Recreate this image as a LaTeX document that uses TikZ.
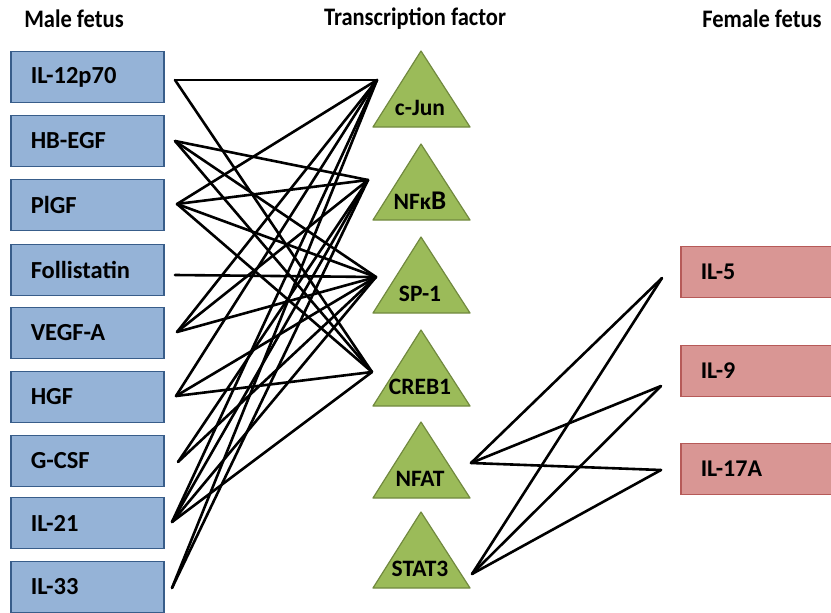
\documentclass[tikz,border=0pt]{standalone}
\usepackage{fontspec}
\setmainfont{Carlito}
\definecolor{boxblue}{HTML}{95B3D7}
\definecolor{edgeblue}{HTML}{385D8A}
\definecolor{boxred}{HTML}{D99694}
\definecolor{edgered}{HTML}{B65A58}
\definecolor{trigreen}{HTML}{9BBB59}
\definecolor{edgegreen}{HTML}{71893F}
\begin{document}
\begin{tikzpicture}[x=1pt,y=-1pt,
  mbox/.style={draw=edgeblue, fill=boxblue, line width=1.5pt, minimum width=153pt, minimum height=51pt,
    anchor=west, inner xsep=20pt, text width=113pt, align=left, font=\fontsize{24.5}{26}\selectfont\bfseries},
  fbox/.style={draw=edgered, fill=boxred, line width=1.5pt, minimum width=160pt, minimum height=51pt,
    anchor=west, inner xsep=20pt, text width=120pt, align=left, font=\fontsize{24}{26}\selectfont\bfseries},
  tri/.style={draw=edgegreen, fill=trigreen, line width=1.2pt, line join=round},
  tlabel/.style={font=\fontsize{23.5}{25}\selectfont\bfseries, inner sep=0pt},
  head/.style={font=\fontsize{22.5}{24}\selectfont\bfseries, inner sep=0pt},
  link/.style={line width=2.6pt, black}]
\useasboundingbox (0,0) rectangle (831,613);
% headers
\node[head] (hmale) at (74,19) {\scalebox{1}[1.12]{Male fetus}};
\node[head] (htf) at (415,19) {\scalebox{1}[1.12]{Transcription factor}};
\node[head] (hfem) at (762,19) {\scalebox{1}[1.12]{Female fetus}};
% male boxes
\node[mbox] (b1) at (10,77) {IL-12p70};
\node[mbox] (b2) at (10,141) {HB-EGF};
\node[mbox] (b3) at (10,205) {PlGF};
\node[mbox] (b4) at (10,270) {Follistatin};
\node[mbox] (b5) at (10,333) {VEGF-A};
\node[mbox] (b6) at (10,397) {HGF};
\node[mbox] (b7) at (10,461) {G-CSF};
\node[mbox] (b8) at (10,523) {IL-21};
\node[mbox] (b9) at (10,587) {IL-33};
% female boxes
\node[fbox] (f1) at (680,272) {IL-5};
\node[fbox] (f2) at (680,371) {IL-9};
\node[fbox] (f3) at (680,469) {IL-17A};
% triangles
\foreach \ap/\nm/\lab in {51/cjun/c-Jun, 144/nfkb/{NFκ{\fontsize{27}{28}\selectfont B}}, 237/sp1/SP-1, 330/creb/CREB1, 422/nfat/NFAT, 512/stat/STAT3}{
  \filldraw[tri] (421,\ap) -- (470,\ap+76) -- (373,\ap+76) -- cycle;
  \node[tlabel] (t\nm) at (420,\ap+57) {\lab};
}
% connector end points
\coordinate (p1) at (175,80);
\coordinate (p2) at (175,141);
\coordinate (p3) at (177,204);
\coordinate (p4) at (175,275);
\coordinate (p5) at (177,332);
\coordinate (p6) at (176,396);
\coordinate (p7) at (178,462);
\coordinate (p8) at (172,522);
\coordinate (p9) at (172,588);
\coordinate (qcjun) at (377,80);
\coordinate (qnfkb) at (368,180);
\coordinate (qsp1) at (376,277);
\coordinate (qcreb) at (372,372);
\coordinate (qnfat) at (471,463);
\coordinate (qstat) at (472,574);
\coordinate (r1) at (662,278);
\coordinate (r2) at (661,386);
\coordinate (r3) at (661,470);
% links
\foreach \a/\b in {p1/qcjun, p1/qcreb,
  p2/qnfkb, p2/qsp1, p2/qcreb,
  p3/qcjun, p3/qnfkb, p3/qsp1, p3/qcreb,
  p4/qsp1,
  p5/qcjun, p5/qnfkb, p5/qsp1,
  p6/qcjun, p6/qsp1, p6/qcreb,
  p7/qnfkb, p7/qsp1,
  p8/qcjun, p8/qnfkb, p8/qsp1, p8/qcreb,
  p9/qcjun, p9/qnfkb,
  qnfat/r1, qnfat/r2, qnfat/r3, qstat/r1, qstat/r2, qstat/r3}
  \draw[link, line cap=round] (\a) -- (\b);
\end{tikzpicture}
\end{document}
